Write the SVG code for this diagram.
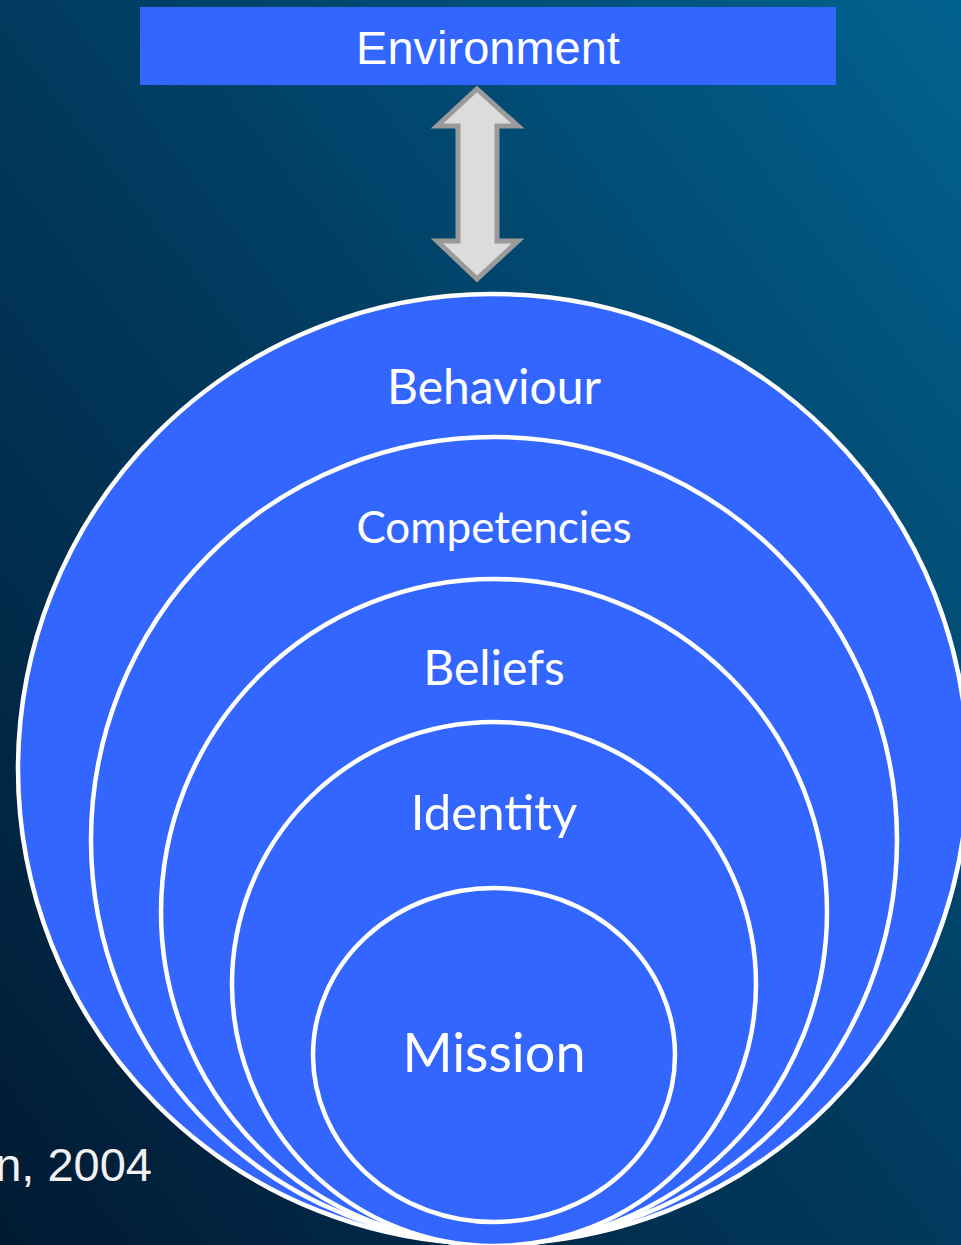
<svg xmlns="http://www.w3.org/2000/svg" width="961" height="1245" viewBox="0 0 961 1245">
<defs>
<linearGradient id="bg" x1="0" y1="1" x2="1" y2="0">
<stop offset="0" stop-color="#011a33"/>
<stop offset="0.5" stop-color="#013a5e"/>
<stop offset="1" stop-color="#02628f"/>
</linearGradient>
<style>
.ring{fill:#3366FF;stroke:#FFFFFF;stroke-width:4.5}
.lbl{font-family:Lato,"Open Sans",sans-serif;fill:#FFFFFF;text-anchor:middle}
</style>
</defs>
<rect x="0" y="0" width="961" height="1245" fill="url(#bg)"/>
<g id="environment">
<rect x="140" y="7" width="696" height="78" fill="#3366FF"/>
<text x="488" y="64" font-family="'Liberation Sans',Arial,sans-serif" font-size="47" fill="#FFFFFF" text-anchor="middle">Environment</text>
</g>
<g id="connectors">
<path d="M477,89 L518,126 L497,126 L497,241 L518,241 L477,279 L437,241 L458,241 L458,126 L437,126 Z" fill="#DCDCDC" stroke="#9A9A9A" stroke-width="5" stroke-linejoin="miter"/>
</g>
<g id="behaviour">
<circle class="ring" cx="493" cy="769" r="475"/>
<text class="lbl" x="494" y="404" font-size="48">Behaviour</text>
</g>
<g id="competencies">
<circle class="ring" cx="494" cy="840" r="403"/>
<text class="lbl" x="494" y="543" font-size="44">Competencies</text>
</g>
<g id="beliefs">
<circle class="ring" cx="494" cy="912" r="333"/>
<text class="lbl" x="494" y="685" font-size="48">Beliefs</text>
</g>
<g id="identity">
<circle class="ring" cx="494" cy="984" r="262"/>
<text class="lbl" x="494" y="830" font-size="49">Identity</text>
</g>
<g id="mission">
<ellipse class="ring" cx="494" cy="1055" rx="181" ry="167"/>
<text class="lbl" x="494" y="1072" font-size="54">Mission</text>
</g>
<g id="citation">
<text x="152" y="1181" font-family="'Liberation Sans',Arial,sans-serif" font-size="47" fill="#F2F2F2" text-anchor="end">n, 2004</text>
</g>
</svg>
